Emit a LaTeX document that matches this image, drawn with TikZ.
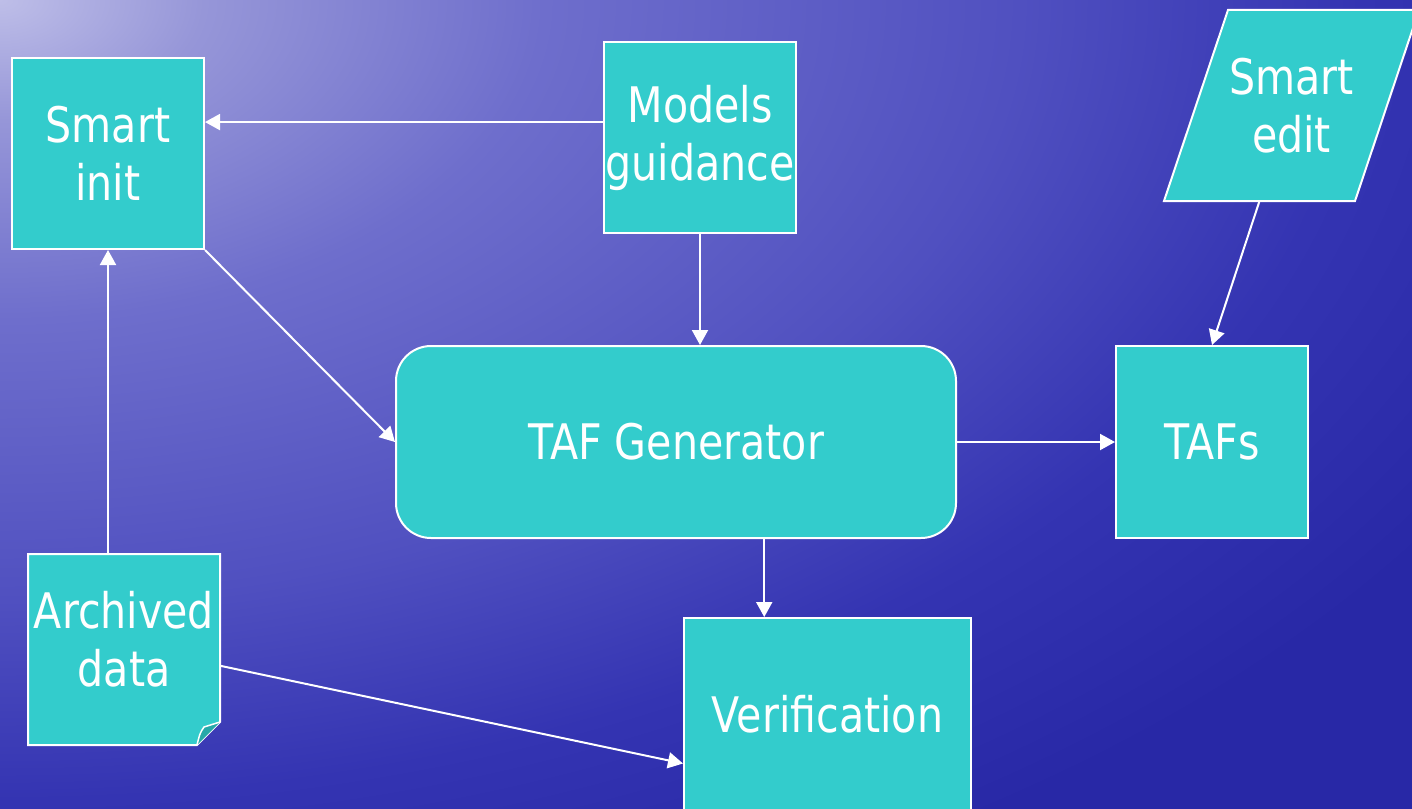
\documentclass[tikz,border=0pt]{standalone}
\usepackage{fontspec}
\setmainfont[FakeStretch=0.84]{DejaVu Sans}
\usetikzlibrary{arrows.meta,calc}

\definecolor{boxfill}{RGB}{51,204,204}
\definecolor{earfill}{RGB}{38,168,168}
\definecolor{lakeA}{RGB}{190,190,232}
\definecolor{lakeB}{RGB}{150,150,216}
\definecolor{lakeC}{RGB}{110,110,204}
\definecolor{lakeD}{RGB}{80,80,192}
\definecolor{lakeE}{RGB}{52,52,178}
\definecolor{lakeF}{RGB}{40,40,166}

% glow of the lake, brightest in the upper left corner
\pgfdeclareradialshading{lake}{\pgfpoint{0bp}{0bp}}{%
  color(0bp)=(lakeA); color(1.5bp)=(lakeB); color(4bp)=(lakeC);
  color(7.5bp)=(lakeD); color(10bp)=(lakeE); color(12.5bp)=(lakeF);
  color(50bp)=(lakeF)}

\begin{document}
\begin{tikzpicture}[x=1pt,y=-1pt,
  box/.style={draw=white,line width=2pt,fill=boxfill,text=white,align=center,
    inner sep=0pt,font=\fontsize{49}{58}\selectfont},
  tag/.style={text=white,align=center,inner sep=0pt,font=\fontsize{49}{58}\selectfont},
  flow/.style={draw=white,line width=2pt,-{Triangle[length=15pt,width=16pt]}}]

  \useasboundingbox (0,0) rectangle (1412,808);
  \begin{scope}
    \clip (0,0) rectangle (1412,808);
    \shade[shading=lake] (0,0) ellipse [x radius=3400pt, y radius=2000pt];
  \end{scope}

  % boxes
  \node[box,minimum width=192pt,minimum height=191pt] (si) at (108,153.5) {Smart\\init};
  \node[box,minimum width=192pt,minimum height=191pt] (mg) at (700,137.5) {Models\\guidance};
  \node[box,rounded corners=35pt,minimum width=560pt,minimum height=192pt] (gen) at (676,442) {TAF Generator};
  \node[box,minimum width=192pt,minimum height=192pt] (taf) at (1212,442) {TAFs};
  \node[box,minimum width=287pt,minimum height=192pt] (ver) at (827.5,714) {Verification};

  % smart edit (input parallelogram)
  \filldraw[fill=boxfill,draw=white,line width=2pt]
    (1164,201) -- (1355,201) -- (1419,10) -- (1228,10) -- cycle;
  \node[tag] (se) at (1291.5,105.5) {Smart\\edit};
  \coordinate (sefoot) at (1259.5,201);

  % archived data (page with folded corner)
  \filldraw[fill=boxfill,draw=white,line width=2pt]
    (28,554) -- (220,554) -- (220,722) -- (197,745) -- (28,745) -- cycle;
  \filldraw[fill=earfill,draw=white,line width=1.5pt]
    (220,722) -- (204,727) .. controls (200,733) .. (197,745);
  \node[minimum width=192pt,minimum height=191pt] (arch) at (124,649.5) {};
  \node[tag] (archtext) at ([yshift=10pt]arch.center) {Archived\\data};

  % connectors
  \draw[flow] ($(mg.north west)!0.42!(mg.south west)$) coordinate (mgout) -- (mgout -| si.east);
  \draw[flow] (mg.south) -- (mg.south |- gen.north);
  \draw[flow] (si.south east) -- (gen.west);
  \draw[flow] (arch.north -| si.south) -- (si.south);
  \draw[flow] ($(arch.north east)!0.585!(arch.south east)$) -- ($(ver.north west)!0.755!(ver.south west)$);
  \draw[flow] ($(gen.south west)!0.657!(gen.south east)$) coordinate (genout) -- (genout |- ver.north);
  \draw[flow] (gen.east) -- (taf.west);
  \draw[flow] (sefoot) -- (taf.north);
\end{tikzpicture}
\end{document}
